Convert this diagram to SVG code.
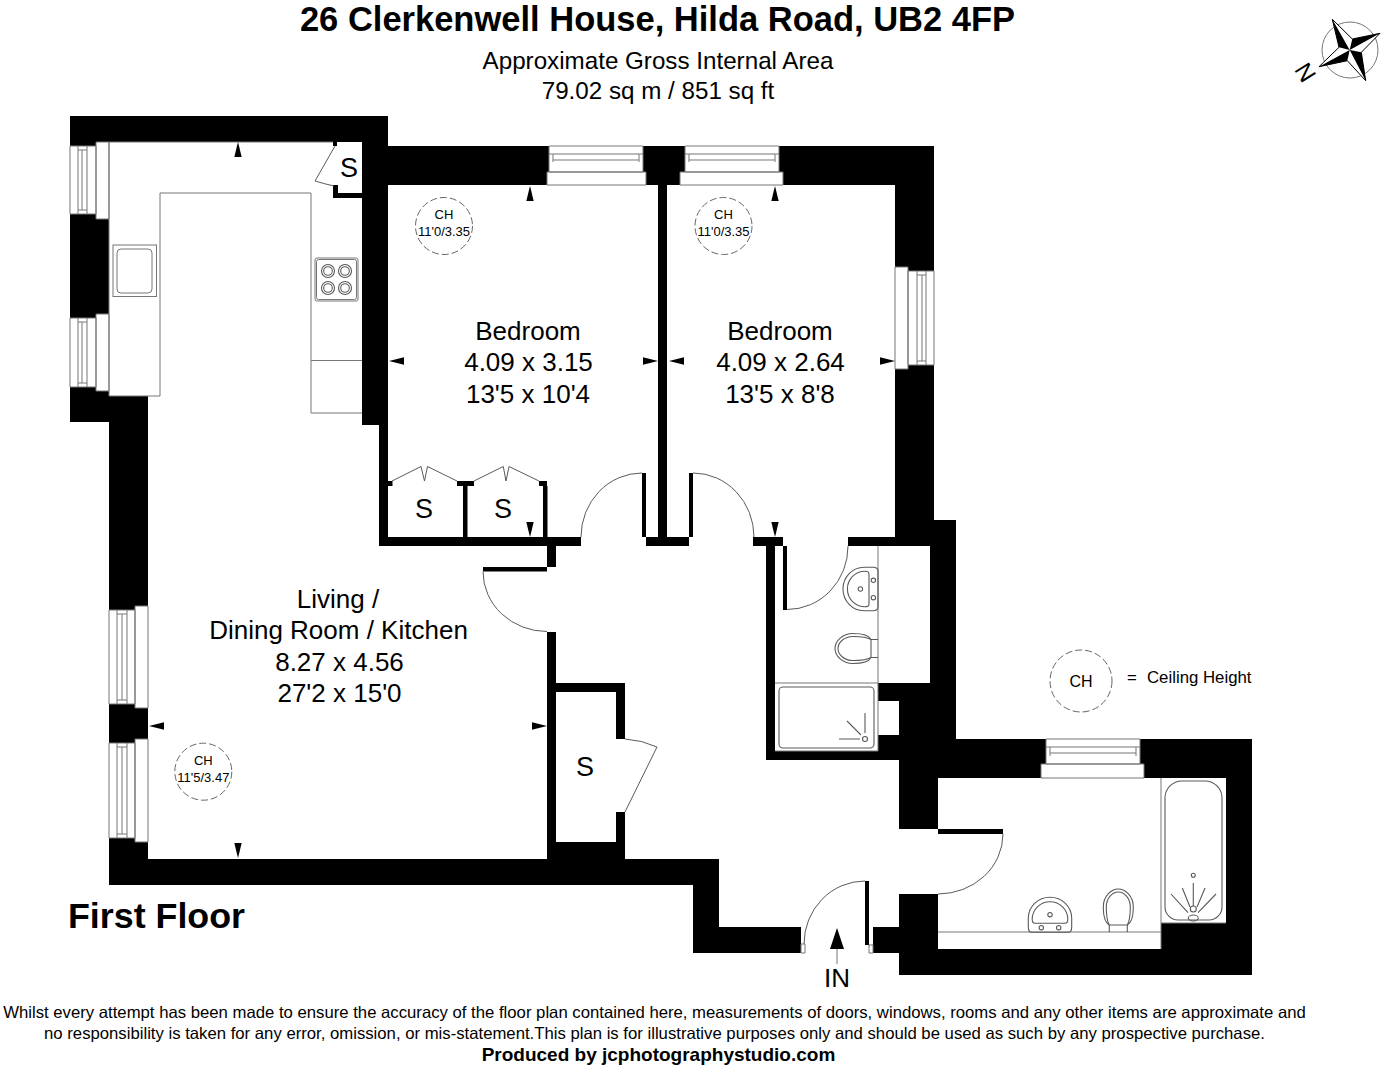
<svg xmlns="http://www.w3.org/2000/svg" xmlns:xlink="http://www.w3.org/1999/xlink" width="1384" height="1072" viewBox="0 0 1384 1072">
<style>
text{font-family:"Liberation Sans",Arial,sans-serif;fill:#000}
.m{text-anchor:middle}
.room{font-size:26px;text-anchor:middle}
.s{font-size:27px;text-anchor:middle}
.ch{font-size:13px;text-anchor:middle}
.ln{fill:none;stroke:#777;stroke-width:1}
.fx{fill:none;stroke:#5a5a5a;stroke-width:1.1}
.dr{fill:none;stroke:#5a5a5a;stroke-width:1}
.cc{fill:#fff;stroke:#666;stroke-width:1;stroke-dasharray:7 3}
</style>
<defs>
<g id="basin" class="fx">
<path d="M-18,0Q-21.7,0-21.7,-5L-21.7,-14A21.7 21 0 0 1 21.7,-14L21.7,-5Q21.7,0 18,0Z"/>
<path d="M-15,-9Q-17.8,-9-17.8,-13A17.8 17.6 0 0 1 17.8,-13Q17.8,-9 15,-9Z"/>
<circle cx="0" cy="-17.6" r="2.2"/><circle cx="-8.7" cy="-4.6" r="2.2"/><circle cx="8.7" cy="-4.6" r="2.2"/>
</g>
<g id="wc" class="fx">
<path d="M-9,-7C-15,-10-15,-20-15,-25C-15,-36-7,-43 0,-43C7,-43 15,-36 15,-25C15,-20 15,-10 9,-7"/>
<path d="M-9,-7C-12,-12-12,-20-12,-25C-12,-34-6,-40 0,-40C6,-40 12,-34 12,-25C12,-20 12,-12 9,-7Z"/>
<path d="M-9,-7L-9,0M9,-7L9,0"/>
</g>
<path id="tip" d="M0,0L-3.7,15L3.7,15Z" fill="#000"/>
</defs>

<g id="title">
<text class="m" x="657.5" y="31" font-size="34.5" font-weight="bold">26 Clerkenwell House, Hilda Road, UB2 4FP</text>
<text class="m" x="658" y="69" font-size="24.2">Approximate Gross Internal Area</text>
<text class="m" x="658" y="99" font-size="24.2">79.02 sq m / 851 sq ft</text>
</g>

<g id="compass">
<circle cx="1350" cy="50" r="28" fill="#fff" stroke="#777" stroke-width="1"/>
<path d="M1332.3,19.3L1352.3,39L1380,33.3L1361.3,52.3L1365.7,80.7L1347.3,60.7L1319,66.7L1339,47.3Z" fill="#fff" stroke="#000" stroke-width="1"/>
<path d="M1332.3,19.3L1349.7,50L1339,47.3ZM1380,33.3L1349.7,50L1352.3,39ZM1365.7,80.7L1349.7,50L1361.3,52.3ZM1319,66.7L1349.7,50L1347.3,60.7Z" fill="#000"/>
<text class="m" transform="translate(1305.7,72.3) rotate(58)" y="8.7" font-size="24">N</text>
</g>

<g id="walls" fill="#000" stroke="none">
<rect x="70" y="116" width="318" height="26"/><rect x="70" y="142" width="26" height="4"/>
<rect x="70" y="214" width="26" height="104"/><rect x="96" y="219" width="13" height="95"/>
<rect x="70" y="387" width="26" height="35"/><rect x="96" y="391" width="13" height="31"/>
<rect x="109" y="396" width="39" height="210"/><rect x="109" y="606" width="26" height="4"/>
<rect x="362" y="142" width="26" height="283"/><rect x="379" y="425" width="9" height="121"/>
<rect x="333" y="142" width="4" height="4"/><rect x="333" y="185" width="5" height="13"/><rect x="333" y="193" width="29" height="5"/>
<rect x="388" y="146" width="161" height="26"/><rect x="388" y="172" width="159" height="13"/>
<rect x="643" y="146" width="42" height="26"/><rect x="646" y="172" width="34" height="13"/>
<rect x="779" y="146" width="155" height="26"/><rect x="783" y="172" width="151" height="13"/>
<rect x="895" y="185" width="39" height="82"/><rect x="908" y="267" width="26" height="4"/>
<rect x="895" y="369" width="39" height="151"/><rect x="908" y="365" width="26" height="4"/>
<rect x="895" y="520" width="61" height="17"/><rect x="848" y="537" width="108" height="9"/>
<rect x="930" y="546" width="26" height="137"/><rect x="878" y="683" width="78" height="18"/>
<rect x="899" y="701" width="57" height="38"/><rect x="878" y="735" width="21" height="16"/>
<rect x="766" y="751" width="133" height="9"/>
<rect x="899" y="739" width="147" height="25"/><rect x="899" y="764" width="142" height="14"/><rect x="899" y="778" width="39" height="51"/>
<rect x="1140" y="739" width="112" height="25"/><rect x="1144" y="764" width="108" height="14"/>
<rect x="1226" y="778" width="26" height="197"/><rect x="1161" y="923" width="65" height="26"/>
<rect x="899" y="949" width="353" height="26"/><rect x="899" y="894" width="39" height="55"/><rect x="873" y="927" width="26" height="26"/>
<rect x="766" y="546" width="9" height="205"/><rect x="753" y="537" width="30" height="9"/><rect x="783" y="546" width="4" height="64"/>
<rect x="380" y="537" width="201" height="9"/><rect x="646" y="537" width="43" height="9"/><rect x="658" y="185" width="9" height="352"/>
<rect x="642" y="473" width="4" height="64"/><rect x="689" y="473" width="4" height="64"/>
<rect x="547" y="546" width="9" height="21"/><rect x="483" y="567" width="64" height="4.5"/><rect x="547" y="632" width="9" height="227"/>
<rect x="556" y="683" width="69" height="9"/><rect x="616" y="692" width="9" height="47"/><rect x="616" y="812" width="9" height="30"/><rect x="556" y="842" width="69" height="17"/>
<rect x="109" y="859" width="610" height="26"/><rect x="693" y="885" width="26" height="68"/><rect x="719" y="927" width="82" height="26"/>
<rect x="109" y="704" width="26" height="39"/><rect x="135" y="708" width="13" height="31"/>
<rect x="109" y="838" width="26" height="21"/><rect x="135" y="842" width="13" height="17"/>
<rect x="463" y="486" width="4.5" height="51"/><rect x="457" y="481" width="17" height="5"/><rect x="539" y="481" width="8" height="5"/><rect x="543" y="486" width="4.5" height="51"/><rect x="388" y="481" width="4.5" height="5"/>
<rect x="938" y="829" width="65" height="5"/><rect x="865" y="881" width="4" height="64"/>
</g>

<g id="windows" class="ln">
<path d="M70,146H96V214H70ZM96,142H109V219H96ZM78,146V214M82,150V210M87,146V214M78,150H87M78,210H87"/>
<path d="M70,318H96V387H70ZM96,314H109V391H96ZM78,318V387M82,322V383M87,318V387M78,322H87M78,383H87"/>
<path d="M549,146H643V172H549ZM547,172H646V185H547ZM549,154H643M553,160H639M553,154V162M639,154V162"/>
<path d="M685,146H779V172H685ZM680,172H783V185H680ZM685,154H779M689,160H775M689,154V162M775,154V162"/>
<path d="M908,271H934V365H908ZM895,267H908V369H895ZM917,271V365M922,275V361M926,271V365M917,275H926M917,361H926"/>
<path d="M1046,739H1140V764H1046ZM1041,764H1144V778H1041ZM1046,747H1140M1050,753H1136M1050,747V756M1136,747V756"/>
<path d="M109,610H135V704H109ZM135,606H148V708H135ZM117,610V704M122,614V700M127,610V704M117,614H127M117,700H127"/>
<path d="M109,743H135V838H109ZM135,739H148V842H135ZM117,743V838M122,747V834M127,743V838M117,747H127M117,834H127"/>
<path d="M801,944H805V953H801ZM869,945H873V953H869Z"/>
</g>

<g id="kitchen-fittings" class="ln">
<path d="M109,142V396H160V193H311V413H362M311,360.5H362M333,142H109"/>
<rect x="113" y="245" width="43.5" height="51.5"/><rect x="117" y="249" width="35" height="44" rx="4"/>
<rect x="315" y="258" width="43" height="43" rx="2"/><rect x="316.5" y="259.5" width="40" height="40" rx="2"/>
<g class="fx"><circle cx="328" cy="271" r="6.5"/><circle cx="328" cy="271" r="4.3"/><circle cx="345" cy="271" r="6.5"/><circle cx="345" cy="271" r="4.3"/><circle cx="328" cy="288" r="6.5"/><circle cx="328" cy="288" r="4.3"/><circle cx="345" cy="288" r="6.5"/><circle cx="345" cy="288" r="4.3"/></g>
</g>

<g id="doors" class="dr">
<path d="M335,146L315,181Q325,184 334,186"/>
<path d="M392,481L421,466.5L424.5,481L427.5,466.5L457,481"/>
<path d="M474,481L503.3,466.5L506,481L509,466.5L539,481"/>
<path d="M581,537A61 64 0 0 1 642,473"/>
<path d="M693,473A61 64 0 0 1 754,537"/>
<path d="M483,571.5A64 60 0 0 0 547,631.5"/>
<path d="M787,609.5A61 63 0 0 0 848,546"/>
<path d="M625,739Q642,740 657,747L625,812"/>
<path d="M1003,834A65 60 0 0 1 938,894"/>
<path d="M804,944A61 63 0 0 1 865,881"/>
</g>

<g id="wc-fittings">
<path class="ln" d="M878,546V751H775M775,683H878"/>
<rect class="fx" x="779" y="687" width="95" height="61" rx="4"/>
<path class="fx" d="M865,713V733M847,721L861,735M839,739H860"/><circle class="fx" cx="865" cy="739" r="2.5"/>
<use xlink:href="#basin" href="#basin" transform="translate(878,589) rotate(-90)"/>
<use xlink:href="#wc" href="#wc" transform="translate(878,648.5) rotate(-90)"/>
</g>

<g id="bathroom-fittings">
<path class="ln" d="M938,932H1161M1161,778V949M1161,923H1226"/>
<path class="fx" d="M1182,781H1205A17 17 0 0 1 1222,798V907A13 13 0 0 1 1209,920H1178A13 13 0 0 1 1165,907V798A17 17 0 0 1 1182,781Z"/>
<circle class="fx" cx="1193.3" cy="875.3" r="2"/>
<path class="fx" d="M1193.3,883V906M1182.3,888L1190,907M1205,888L1197,907M1171,894L1188,912.7M1216,894L1198,912.7"/>
<circle class="fx" cx="1193.3" cy="909" r="3"/><ellipse class="fx" cx="1193.3" cy="918" rx="5" ry="3"/>
<use xlink:href="#basin" href="#basin" transform="translate(1050,932.3)"/>
<use xlink:href="#wc" href="#wc" transform="translate(1118.3,932)"/>
</g>

<g id="dimension-ticks">
<use xlink:href="#tip" href="#tip" transform="translate(238,142)"/>
<use xlink:href="#tip" href="#tip" transform="translate(530,186)"/>
<use xlink:href="#tip" href="#tip" transform="translate(775,186)"/>
<use xlink:href="#tip" href="#tip" transform="translate(238,858) rotate(180)"/>
<use xlink:href="#tip" href="#tip" transform="translate(530,537) rotate(180)"/>
<use xlink:href="#tip" href="#tip" transform="translate(775,537) rotate(180)"/>
<use xlink:href="#tip" href="#tip" transform="translate(389,361) rotate(-90)"/>
<use xlink:href="#tip" href="#tip" transform="translate(669,361) rotate(-90)"/>
<use xlink:href="#tip" href="#tip" transform="translate(149,726) rotate(-90)"/>
<use xlink:href="#tip" href="#tip" transform="translate(658,361) rotate(90)"/>
<use xlink:href="#tip" href="#tip" transform="translate(895,361) rotate(90)"/>
<use xlink:href="#tip" href="#tip" transform="translate(547,726) rotate(90)"/>
</g>

<g id="ceiling-heights">
<circle class="cc" cx="444" cy="226" r="28.5"/><text class="ch" x="444" y="219">CH</text><text class="ch" x="444" y="236">11'0/3.35</text>
<circle class="cc" cx="723.5" cy="226" r="28.5"/><text class="ch" x="723.5" y="219">CH</text><text class="ch" x="723.5" y="236">11'0/3.35</text>
<circle class="cc" cx="203.3" cy="771.7" r="28.5"/><text class="ch" x="203.3" y="765">CH</text><text class="ch" x="203.3" y="782">11'5/3.47</text>
</g>

<g id="room-bedroom-1"><text class="room" x="528" y="340">Bedroom</text><text class="room" x="528.5" y="371">4.09 x 3.15</text><text class="room" x="528" y="403">13'5 x 10'4</text></g>
<g id="room-bedroom-2"><text class="room" x="780" y="340">Bedroom</text><text class="room" x="780.5" y="371">4.09 x 2.64</text><text class="room" x="780" y="403">13'5 x 8'8</text></g>
<g id="room-living"><text class="room" x="338" y="608">Living /</text><text class="room" x="338.5" y="639">Dining Room / Kitchen</text><text class="room" x="339.5" y="671">8.27 x 4.56</text><text class="room" x="339.5" y="702">27'2 x 15'0</text></g>
<g id="stores"><text class="s" x="349" y="177">S</text><text class="s" x="424" y="518">S</text><text class="s" x="503" y="518">S</text><text class="s" x="585" y="776">S</text></g>

<g id="entrance">
<path d="M837,928L830,949H844Z" fill="#000"/><path class="ln" d="M837,949V964"/>
<text class="m" x="837" y="987" font-size="26">IN</text>
</g>

<g id="legend">
<circle class="cc" cx="1081" cy="681" r="31"/>
<text class="m" x="1081" y="687" font-size="16">CH</text>
<text x="1127" y="683" font-size="16.8" xml:space="preserve">=  <tspan x="1147">Ceiling Height</tspan></text>
</g>

<text id="floor-name" x="68" y="928" font-size="35.8" font-weight="bold">First Floor</text>

<g id="footer">
<text class="m" x="654.5" y="1018" font-size="16.72">Whilst every attempt has been made to ensure the accuracy of the floor plan contained here, measurements of doors, windows, rooms and any other items are approximate and</text>
<text class="m" x="654.5" y="1039" font-size="16.72">no responsibility is taken for any error, omission, or mis-statement.This plan is for illustrative purposes only and should be used as such by any prospective purchase.</text>
<text class="m" x="658.5" y="1061" font-size="19" font-weight="bold">Produced by jcphotographystudio.com</text>
</g>
</svg>
